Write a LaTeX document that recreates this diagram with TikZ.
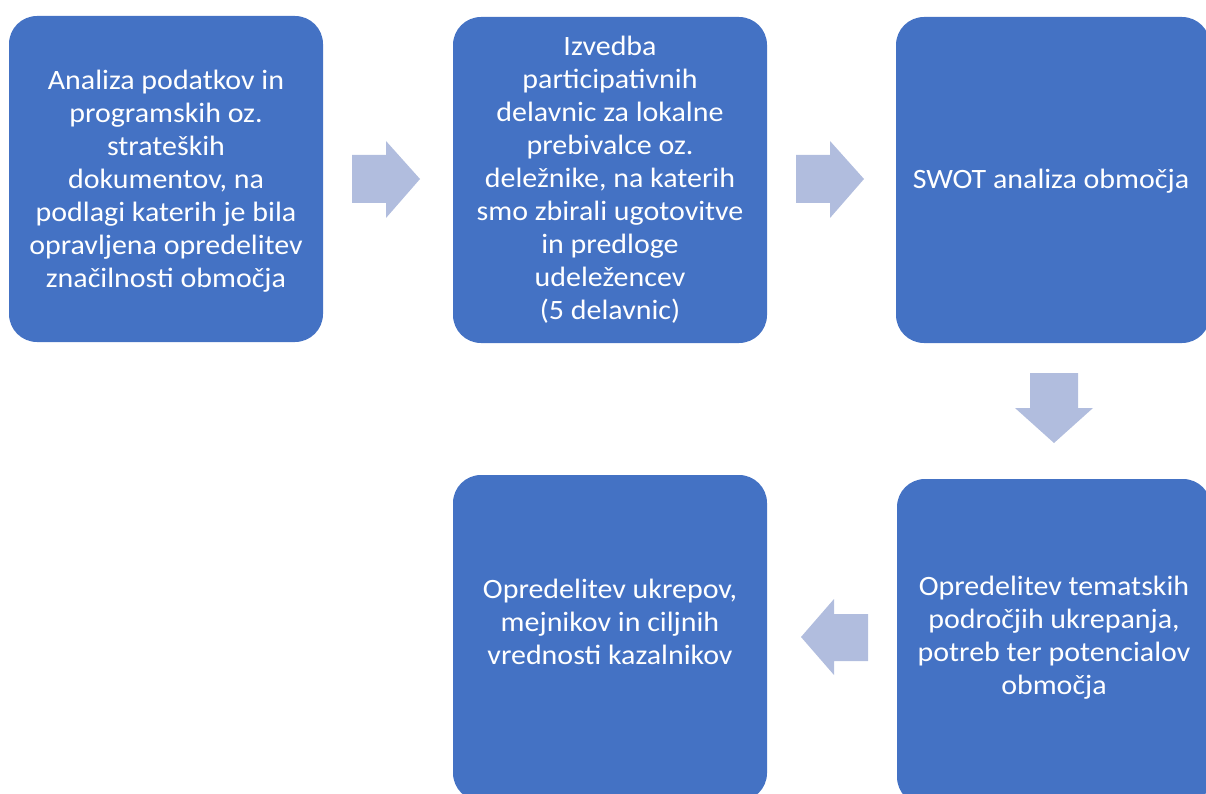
\documentclass[tikz,border=0pt]{standalone}
\usepackage{fontspec}
\setmainfont{Carlito}[FakeStretch=1.07]
\definecolor{boxblue}{HTML}{4472C4}
\definecolor{arrowblue}{HTML}{B1BDDE}
\begin{document}
\begin{tikzpicture}[x=1pt,y=-1pt,
  stepbox/.style={fill=boxblue,draw=none,rounded corners=28pt,minimum width=314pt,minimum height=326pt,inner sep=0pt},
  boxtext/.style={text=white,align=center,font=\fontsize{28}{33}\selectfont,inner sep=0pt},
  blockarrow/.style={fill=arrowblue,draw=none}]
\useasboundingbox (0,0) rectangle (1206,794);
% boxes
\node[stepbox] (b1) at (166,179) {};
\node[stepbox] (b2) at (610,180) {};
\node[stepbox] (b3) at (1053,180) {};
\node[stepbox] (b4) at (1054,642) {};
\node[stepbox] (b5) at (610,638) {};
% texts
\node[boxtext] (t1) at (166,181) {Analiza podatkov in\\programskih oz.\\strateških\\dokumentov, na\\podlagi katerih je bila\\opravljena opredelitev\\značilnosti območja};
\node[boxtext] (t2) at (610,180) {Izvedba\\participativnih\\delavnic za lokalne\\prebivalce oz.\\deležnike, na katerih\\smo zbirali ugotovitve\\in predloge\\udeležencev\\(5 delavnic)};
\node[boxtext] (t3) at (1051,181) {SWOT analiza območja};
\node[boxtext] (t4) at (1054,638) {Opredelitev tematskih\\področjih ukrepanja,\\potreb ter potencialov\\območja};
\node[boxtext] (t5) at (610,622) {Opredelitev ukrepov,\\mejnikov in ciljnih\\vrednosti kazalnikov};
% block arrows
\fill[blockarrow] (352,155) -- (386,155) -- (386,141) -- (420,179) -- (386,218) -- (386,203) -- (352,203) -- cycle;
\fill[blockarrow] (796,155) -- (830,155) -- (830,141) -- (864,179) -- (830,218) -- (830,203) -- (796,203) -- cycle;
\fill[blockarrow] (1030,373) -- (1030,408) -- (1015,408) -- (1054,443) -- (1093,408) -- (1078,408) -- (1078,373) -- cycle;
\fill[blockarrow] (868,614) -- (834,614) -- (834,599) -- (801,637) -- (834,675) -- (834,661) -- (868,661) -- cycle;
\end{tikzpicture}
\end{document}
